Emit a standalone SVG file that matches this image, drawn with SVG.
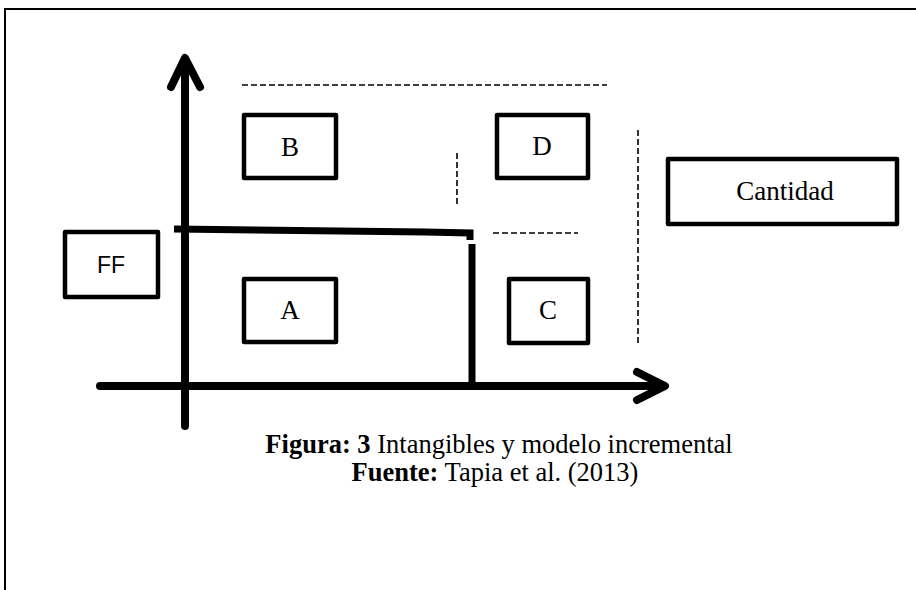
<svg xmlns="http://www.w3.org/2000/svg" width="916" height="590" viewBox="0 0 916 590">
<style>
.box{fill:#fff;stroke:#000;stroke-width:4.5;stroke-linejoin:round}
.lbl{font-family:"Liberation Serif","Times New Roman",serif;font-size:27px;fill:#000;text-anchor:middle}
.sans{font-family:"Liberation Sans",Arial,sans-serif;font-size:23px;fill:#000;text-anchor:middle}
.axis{fill:none;stroke:#000;stroke-width:8;stroke-linecap:round;stroke-linejoin:round}
.thick{fill:none;stroke:#000;stroke-width:7}
.dash{fill:none;stroke:#000;stroke-width:1.6;stroke-dasharray:6 3}
.cap{font-family:"Liberation Serif","Times New Roman",serif;font-size:26.5px;fill:#000;text-anchor:middle}
</style>
<rect width="916" height="590" fill="#fff"/>
<path d="M5,592 V9 H918" fill="none" stroke="#000" stroke-width="2"/>
<g id="connectors">
  <path class="axis" d="M185,426 V60 M171,87 L185,58 L200,87"/>
  <path class="axis" d="M100,386 H664 M637,372 L665,386 L637,400"/>
  <path class="thick" d="M174,229 L425,232 L470,233 V240"/>
  <path class="thick" d="M472,244 V386"/>
  <path class="dash" d="M242,85 H607"/>
  <path class="dash" d="M457,153 V207"/>
  <path class="dash" d="M493,233 H578"/>
  <path class="dash" d="M638,130 V346"/>
</g>
<g id="B"><rect class="box" x="244" y="115" width="92" height="63"/><text class="lbl" x="290" y="156">B</text></g>
<g id="D"><rect class="box" x="497" y="115" width="91" height="63"/><text class="lbl" x="542" y="155">D</text></g>
<g id="FF"><rect class="box" x="65" y="232" width="93" height="65"/><text class="sans" x="111" y="273">FF</text></g>
<g id="A"><rect class="box" x="244" y="279" width="92" height="63"/><text class="lbl" x="290" y="319">A</text></g>
<g id="C"><rect class="box" x="509" y="279" width="79" height="64"/><text class="lbl" x="548" y="319">C</text></g>
<g id="Cantidad"><rect class="box" x="668" y="159" width="229" height="65"/><text class="lbl" x="785" y="200">Cantidad</text></g>
<g id="caption">
  <text class="cap" x="499" y="453"><tspan font-weight="bold">Figura: 3</tspan> Intangibles y modelo incremental</text>
  <text class="cap" x="495" y="481"><tspan font-weight="bold">Fuente:</tspan> Tapia et al. (2013)</text>
</g>
</svg>
